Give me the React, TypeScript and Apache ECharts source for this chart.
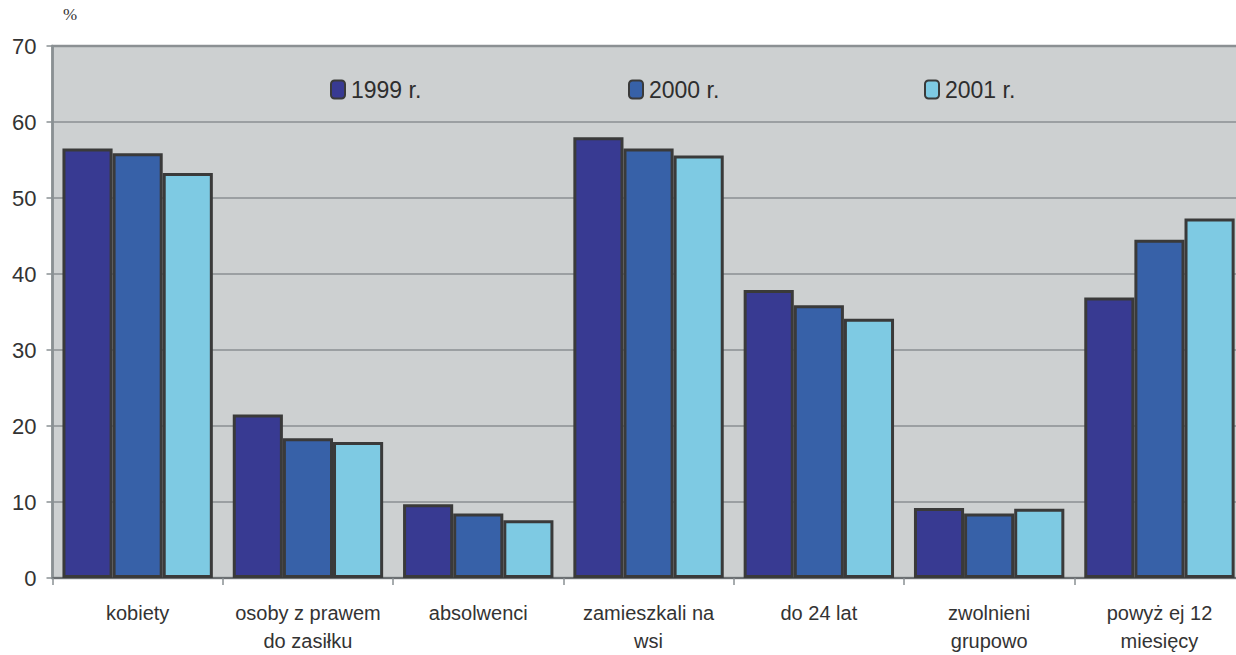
import React, { useEffect, useRef } from "react";
import * as echarts from "echarts";

const categories = [
  "kobiety",
  "osoby z prawem\ndo zasiłku",
  "absolwenci",
  "zamieszkali na\nwsi",
  "do 24 lat",
  "zwolnieni\ngrupowo",
  "powyż ej 12\nmiesięcy",
];
const seriesNames = ["1999 r.", "2000 r.", "2001 r."];
const values1999 = [56.5, 21.5, 9.7, 58.0, 37.9, 9.2, 36.9];
const values2000 = [55.9, 18.4, 8.5, 56.5, 35.9, 8.5, 44.5];
const values2001 = [53.3, 17.9, 7.6, 55.6, 34.1, 9.1, 47.3];
const yTicks = [0, 10, 20, 30, 40, 50, 60, 70];
const colors = ["#383a92", "#3761a8", "#7ecae3"];

export default function App() {
  const ref = useRef<HTMLDivElement>(null);
  useEffect(() => {
    if (!ref.current) return;
    const chart = echarts.init(ref.current, null, { renderer: "svg" });
    const allValues = [values1999, values2000, values2001];
    const legendLefts = [330, 628, 924];
    chart.setOption({
      animation: false,
      backgroundColor: "#ffffff",
      textStyle: { fontFamily: "Liberation Sans, Arial, sans-serif" },
      grid: {
        left: 52.5,
        right: 5.4,
        top: 46,
        bottom: 77,
        show: true,
        backgroundColor: "#cdd0d1",
        borderColor: "#8e9598",
        borderWidth: 2.5,
      },
      legend: seriesNames.map((n, i) => ({
        data: [n],
        left: legendLefts[i],
        top: 78,
        padding: 0,
        itemWidth: 14,
        itemHeight: 18,
        itemGap: 0,
        textStyle: {
          fontSize: 23,
          color: "#2e2e2e",
          fontFamily: "Liberation Sans, Arial, sans-serif",
          padding: [0, 0, 0, 1],
        },
      })),
      xAxis: {
        type: "category",
        data: categories,
        boundaryGap: true,
        axisLine: { show: true, lineStyle: { color: "#6b6f72", width: 2 } },
        axisTick: {
          show: true,
          length: 7,
          alignWithLabel: false,
          lineStyle: { color: "#8a9093", width: 1.5 },
        },
        axisLabel: {
          fontSize: 20,
          color: "#333333",
          lineHeight: 28,
          margin: 21,
          interval: 0,
          fontFamily: "Liberation Sans, Arial, sans-serif",
        },
      },
      yAxis: {
        type: "value",
        min: yTicks[0],
        max: yTicks[yTicks.length - 1],
        interval: 10,
        axisLine: { show: true, lineStyle: { color: "#8a9093", width: 2.5 } },
        axisTick: { show: true, length: 6, lineStyle: { color: "#8a9093", width: 1.5 } },
        axisLabel: {
          fontSize: 22,
          color: "#333333",
          margin: 16,
          fontFamily: "Liberation Sans, Arial, sans-serif",
        },
        splitLine: { show: true, lineStyle: { color: "#8a8f92", width: 1.5 } },
      },
      graphic: [
        {
          type: "text",
          left: 63,
          top: 6,
          style: {
            text: "%",
            fontSize: 17,
            fill: "#333333",
            fontFamily: "Liberation Serif, Times New Roman, serif",
          },
        },
      ],
      series: seriesNames.map((n, i) => ({
        name: n,
        type: "bar",
        data: allValues[i],
        barGap: "0%",
        barCategoryGap: "11.7%",
        itemStyle: {
          color: colors[i],
          borderColor: "#3a3a3a",
          borderWidth: 3,
        },
      })),
    });
    return () => chart.dispose();
  }, []);
  return (
    <div
      style={{
        position: "absolute",
        left: 0,
        top: 0,
        width: 1236,
        height: 655,
        overflow: "hidden",
      }}
    >
      <div ref={ref} style={{ width: 1250, height: 655 }} />
    </div>
  );
}
